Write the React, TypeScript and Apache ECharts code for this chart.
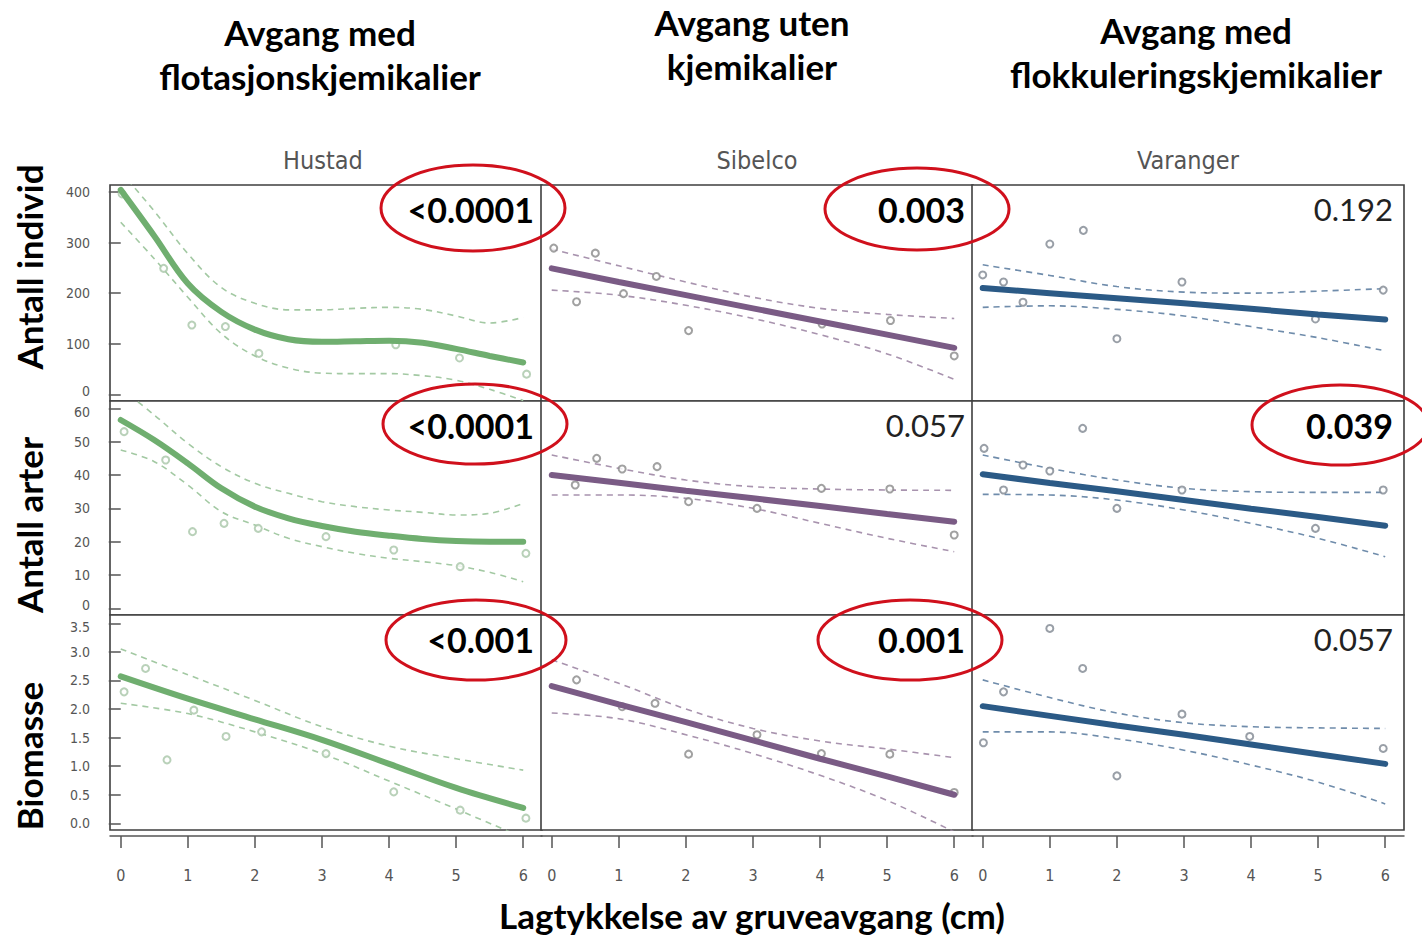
import React, { useEffect, useRef } from 'react';
import * as echarts from 'echarts';

// ---------- data ----------
const xTickValues = [0, 1, 2, 3, 4, 5, 6];
const curveX = [0, 0.5, 1, 1.5, 2, 2.5, 3, 3.5, 4, 4.5, 5, 5.5, 6];
const lineX = [0, 1, 2, 3, 4, 5, 6];

const columnNames = ['Hustad', 'Sibelco', 'Varanger'];
const headerLines = [
  ['Avgang med', 'flotasjonskjemikalier'],
  ['Avgang uten', 'kjemikalier'],
  ['Avgang med', 'flokkuleringskjemikalier'],
];
const rowTitles = ['Antall individ', 'Antall arter', 'Biomasse'];
const xTitle = 'Lagtykkelse av gruveavgang (cm)';

const pValues = [
  ['<0.0001', '0.003', '0.192'],
  ['<0.0001', '0.057', '0.039'],
  ['<0.001', '0.001', '0.057'],
];
const significant = [
  [true, true, false],
  [true, false, true],
  [true, true, false],
];

const yTicksIndivid = [0, 100, 200, 300, 400];
const yTicksArter = [0, 10, 20, 30, 40, 50, 60];
const yTicksBiomasse = [0, 0.5, 1, 1.5, 2, 2.5, 3, 3.5];

// Hustad – Antall individ
const hustadIndividPts = [[0.02, 396], [0.64, 249], [1.06, 137], [1.56, 134], [2.06, 81], [4.1, 98], [5.05, 72], [6.05, 40]];
const hustadIndividFit = [404, 313, 219, 163, 128, 109, 104, 105, 106, 102, 90, 76, 63];
const hustadIndividUpper = [440, 362, 278, 211, 180, 167, 167, 170, 172, 168, 155, 141, 152];
const hustadIndividLower = [340, 268, 192, 120, 76, 52, 42, 41, 41, 37, 28, 10, -12];

// Sibelco – Antall individ
const sibelcoIndividPts = [[0.03, 289], [0.37, 183], [0.65, 279], [1.07, 199], [1.56, 233], [2.04, 126], [4.03, 139], [5.05, 146], [6.0, 76]];
const sibelcoIndividFit = [249, 222, 196, 170, 144, 118, 92];
const sibelcoIndividUpper = [287, 254, 222, 192, 170, 158, 150];
const sibelcoIndividLower = [206, 196, 176, 150, 118, 80, 30];

// Varanger – Antall individ
const varangerIndividPts = [[0.0, 236], [0.31, 222], [0.6, 182], [1.0, 297], [1.5, 324], [2.0, 110], [2.97, 222], [4.96, 149], [5.97, 206]];
const varangerIndividFit = [210, 200, 190, 180, 169, 158, 148];
const varangerIndividUpper = [256, 235, 213, 202, 200, 204, 209];
const varangerIndividLower = [172, 175, 168, 155, 134, 112, 86];

// Hustad – Antall arter
const hustadArterPts = [[0.05, 53], [0.67, 44.5], [1.07, 23], [1.54, 25.5], [2.05, 24], [3.06, 21.5], [4.07, 17.5], [5.06, 12.5], [6.04, 16.5]];
const hustadArterFit = [56.5, 50.5, 43.5, 36, 30.5, 27, 24.7, 23, 21.8, 20.8, 20.2, 20, 20];
const hustadArterUpper = [66, 58, 49.5, 42.5, 37.5, 34.5, 32, 30.5, 29.5, 28.8, 28, 28.5, 31.5];
const hustadArterLower = [47.5, 44, 37, 29, 25, 21, 18.5, 16.5, 15, 14, 12.8, 10.8, 8];

// Sibelco – Antall arter
const sibelcoArterPts = [[0.35, 37], [0.67, 45], [1.05, 41.8], [1.57, 42.5], [2.04, 32], [3.06, 30], [4.02, 36], [5.04, 35.8], [6.0, 22]];
const sibelcoArterFit = [40, 37.7, 35.3, 33, 30.7, 28.3, 26];
const sibelcoArterUpper = [46, 42, 38.5, 36.5, 35.8, 35.5, 35.4];
const sibelcoArterLower = [34, 34, 33, 30, 25.5, 21, 17];

// Varanger – Antall arter
const varangerArterPts = [[0.02, 48], [0.31, 35.5], [0.6, 43], [1.0, 41.2], [1.49, 54], [2.0, 30], [2.97, 35.5], [4.96, 24], [5.97, 35.5]];
const varangerArterFit = [40.2, 37.6, 35.1, 32.5, 29.9, 27.4, 24.8];
const varangerArterUpper = [46, 42, 38.5, 36, 35, 34.8, 34.8];
const varangerArterLower = [34.2, 34, 32.5, 29.5, 25.5, 21, 15.5];

// Hustad – Biomasse
const hustadBiomassePts = [[0.05, 2.3], [0.37, 2.71], [0.69, 1.11], [1.09, 1.98], [1.57, 1.52], [2.1, 1.6], [3.06, 1.22], [4.07, 0.55], [5.06, 0.23], [6.04, 0.09]];
const hustadBiomasseFit = [2.57, 2.18, 1.82, 1.46, 1.04, 0.62, 0.27];
const hustadBiomasseUpper = [3.05, 2.6, 2.15, 1.69, 1.35, 1.13, 0.93];
const hustadBiomasseLower = [2.1, 1.92, 1.6, 1.22, 0.74, 0.25, -0.25];

// Sibelco – Biomasse
const sibelcoBiomassePts = [[0.37, 2.51], [1.05, 2.04], [1.54, 2.1], [2.04, 1.21], [3.06, 1.55], [4.02, 1.22], [5.04, 1.21], [6.0, 0.54]];
const sibelcoBiomasseFit = [2.4, 2.08, 1.77, 1.45, 1.13, 0.82, 0.5];
const sibelcoBiomasseUpper = [2.86, 2.45, 2.0, 1.66, 1.44, 1.3, 1.15];
const sibelcoBiomasseLower = [1.93, 1.83, 1.55, 1.22, 0.84, 0.4, -0.15];

// Varanger – Biomasse
const varangerBiomassePts = [[0.01, 1.41], [0.31, 2.3], [1.0, 3.41], [1.49, 2.71], [2.0, 0.83], [2.97, 1.91], [3.98, 1.52], [5.97, 1.31]];
const varangerBiomasseFit = [2.05, 1.88, 1.71, 1.55, 1.38, 1.21, 1.04];
const varangerBiomasseUpper = [2.51, 2.2, 1.93, 1.76, 1.69, 1.67, 1.66];
const varangerBiomasseLower = [1.6, 1.6, 1.48, 1.28, 1.02, 0.72, 0.34];

// ---------- layout / styles ----------
const colLeft = [110, 541, 972];
const colWidth = 432;
const rowTop = [185, 401, 615];
const rowHeight = [216, 214, 215];
const xRange = [-0.16, 6.28];
const yRanges = [[-13, 413.6], [-2.0, 62.2], [-0.117, 3.645]];
const yTicks = [yTicksIndivid, yTicksArter, yTicksBiomasse];

const fitColors = ['#6fae6f', '#7a5b85', '#2b5a86'];
const dashColors = ['#a3c9a3', '#a893ae', '#6f8cab'];
const pointColors = ['#a8c6a8', '#8a8a8a', '#7f8791'];

const narrowFont = "'Liberation Sans Narrow', 'DejaVu Sans Condensed', 'Liberation Sans', sans-serif";
const boldFont = "Lato, 'Noto Sans', sans-serif";

const panels = [
  { row: 0, col: 0, pts: hustadIndividPts, xs: curveX, fit: hustadIndividFit, up: hustadIndividUpper, lo: hustadIndividLower },
  { row: 0, col: 1, pts: sibelcoIndividPts, xs: lineX, fit: sibelcoIndividFit, up: sibelcoIndividUpper, lo: sibelcoIndividLower },
  { row: 0, col: 2, pts: varangerIndividPts, xs: lineX, fit: varangerIndividFit, up: varangerIndividUpper, lo: varangerIndividLower },
  { row: 1, col: 0, pts: hustadArterPts, xs: curveX, fit: hustadArterFit, up: hustadArterUpper, lo: hustadArterLower },
  { row: 1, col: 1, pts: sibelcoArterPts, xs: lineX, fit: sibelcoArterFit, up: sibelcoArterUpper, lo: sibelcoArterLower },
  { row: 1, col: 2, pts: varangerArterPts, xs: lineX, fit: varangerArterFit, up: varangerArterUpper, lo: varangerArterLower },
  { row: 2, col: 0, pts: hustadBiomassePts, xs: lineX, fit: hustadBiomasseFit, up: hustadBiomasseUpper, lo: hustadBiomasseLower },
  { row: 2, col: 1, pts: sibelcoBiomassePts, xs: lineX, fit: sibelcoBiomasseFit, up: sibelcoBiomasseUpper, lo: sibelcoBiomasseLower },
  { row: 2, col: 2, pts: varangerBiomassePts, xs: lineX, fit: varangerBiomasseFit, up: varangerBiomasseUpper, lo: varangerBiomasseLower },
];

const zip = (xs: number[], ys: number[]) => xs.map((x, i) => [x, ys[i]]);

function buildOption() {
  const grid: any[] = [];
  const xAxis: any[] = [];
  const yAxis: any[] = [];
  const series: any[] = [];

  panels.forEach((p, i) => {
    grid.push({
      left: colLeft[p.col],
      top: rowTop[p.row],
      width: colWidth,
      height: rowHeight[p.row],
      show: true,
      borderColor: '#3f3f3f',
      borderWidth: 1.6,
      backgroundColor: '#ffffff',
      containLabel: false,
    });
    const bottom = p.row === 2;
    xAxis.push({
      type: 'value',
      gridIndex: i,
      min: xRange[0],
      max: xRange[1],
      offset: bottom ? 6 : 0,
      axisLine: { show: bottom, onZero: false, lineStyle: { color: '#555', width: 1.5 } },
      axisTick: { show: bottom, length: 12, customValues: xTickValues, lineStyle: { color: '#555', width: 1.5 } },
      axisLabel: {
        show: bottom,
        customValues: xTickValues,
        margin: 31,
        color: '#555',
        fontSize: 16,
        fontFamily: narrowFont,
      },
      splitLine: { show: false },
    });
    const left = p.col === 0;
    const rowT = yTicks[p.row];
    const topVal = rowT[rowT.length - 1];
    yAxis.push({
      type: 'value',
      gridIndex: i,
      min: yRanges[p.row][0],
      max: yRanges[p.row][1],
      axisLine: { show: false },
      axisTick: { show: left, length: 12, customValues: rowT, lineStyle: { color: '#555', width: 1.5 } },
      axisLabel: {
        show: left,
        customValues: rowT,
        margin: 20,
        color: '#555',
        fontSize: 14,
        fontFamily: narrowFont,
        formatter: (v: number) => {
          const s = p.row === 2 ? v.toFixed(1) : String(v);
          if (v === 0 && p.row < 2) return `{lo|${s}}`;
          if (v === topVal && p.row > 0) return `{hi|${s}}`;
          return s;
        },
        rich: {
          lo: { padding: [0, 0, 7, 0], color: '#555', fontSize: 14, fontFamily: narrowFont },
          hi: { padding: [7, 0, 0, 0], color: '#555', fontSize: 14, fontFamily: narrowFont },
        },
      },
      splitLine: { show: false },
    });

    const c = p.col;
    series.push({
      type: 'line',
      xAxisIndex: i,
      yAxisIndex: i,
      data: zip(p.xs, p.up),
      showSymbol: false,
      smooth: 0.35,
      lineStyle: { color: dashColors[c], width: 1.6, type: [6, 5] },
      z: 2,
      silent: true,
    });
    series.push({
      type: 'line',
      xAxisIndex: i,
      yAxisIndex: i,
      data: zip(p.xs, p.lo),
      showSymbol: false,
      smooth: 0.35,
      lineStyle: { color: dashColors[c], width: 1.6, type: [6, 5] },
      z: 2,
      silent: true,
    });
    series.push({
      type: 'scatter',
      xAxisIndex: i,
      yAxisIndex: i,
      data: p.pts,
      symbol: 'emptyCircle',
      symbolSize: 7,
      itemStyle: { color: pointColors[c], borderColor: pointColors[c], borderWidth: 1.2 },
      z: 3,
      silent: true,
    });
    series.push({
      type: 'line',
      xAxisIndex: i,
      yAxisIndex: i,
      data: zip(p.xs, p.fit),
      showSymbol: false,
      smooth: p.col === 0 ? 0.35 : false,
      lineStyle: { color: fitColors[c], width: 6, cap: 'round' },
      z: 4,
      silent: true,
    });
  });

  const graphic: any[] = [];
  // headers
  const headerCenters = [320, 752, 1196];
  const headerY = [[32, 76], [22, 66], [30, 74]];
  headerLines.forEach((lines, c) => {
    lines.forEach((t, k) => {
      graphic.push({
        type: 'text',
        x: headerCenters[c],
        y: headerY[c][k],
        style: { text: t, fill: '#000', font: `bold 35px ${boldFont}`, textAlign: 'center', textVerticalAlign: 'middle' },
      });
    });
  });
  // panel names
  const nameCenters = [323, 757, 1188];
  columnNames.forEach((n, c) => {
    graphic.push({
      type: 'text',
      x: nameCenters[c],
      y: 160,
      style: { text: n, fill: '#555', font: `25px ${narrowFont}`, textAlign: 'center', textVerticalAlign: 'middle' },
    });
  });
  // row titles
  const rowCenters = [267, 525, 756];
  rowTitles.forEach((t, r) => {
    graphic.push({
      type: 'text',
      x: 29,
      y: rowCenters[r],
      rotation: Math.PI / 2,
      style: { text: t, fill: '#000', font: `bold 35px ${boldFont}`, textAlign: 'center', textVerticalAlign: 'middle' },
    });
  });
  // x title
  graphic.push({
    type: 'text',
    x: 752,
    y: 915,
    style: { text: xTitle, fill: '#000', font: `bold 35px ${boldFont}`, textAlign: 'center', textVerticalAlign: 'middle' },
  });
  // p-values
  const pRight = [534, 965, 1393];
  const pY = [209, 425, 639];
  pValues.forEach((rowVals, r) => {
    rowVals.forEach((v, c) => {
      const sig = significant[r][c];
      graphic.push({
        type: 'text',
        x: pRight[c],
        y: pY[r],
        z: 10,
        style: {
          text: v,
          fill: sig ? '#000' : '#222',
          font: `${sig ? 'bold 34px' : '31px'} ${boldFont}`,
          textAlign: 'right',
          textVerticalAlign: 'middle',
        },
      });
    });
  });
  // red ellipses
  const ellipses = [
    [473, 208, 92, 43],
    [917, 209, 92, 41],
    [475, 424, 92, 40],
    [1340, 425, 88, 40],
    [476, 640, 90, 40],
    [910, 640, 92, 40],
  ];
  ellipses.forEach(([cx, cy, rx, ry]) => {
    graphic.push({
      type: 'ellipse',
      z: 11,
      shape: { cx, cy, rx, ry },
      style: { fill: 'none', stroke: '#d0101c', lineWidth: 3 },
    });
  });

  return {
    animation: false,
    backgroundColor: '#ffffff',
    grid,
    xAxis,
    yAxis,
    series,
    graphic,
  };
}

export default function App() {
  const ref = useRef<HTMLDivElement>(null);
  useEffect(() => {
    document.body.style.margin = '0';
    if (!ref.current) return;
    const chart = echarts.init(ref.current, undefined, { renderer: 'svg' });
    chart.setOption(buildOption() as any);
    return () => chart.dispose();
  }, []);
  return <div ref={ref} style={{ position: 'absolute', left: 0, top: 0, width: 1422, height: 935 }} />;
}
